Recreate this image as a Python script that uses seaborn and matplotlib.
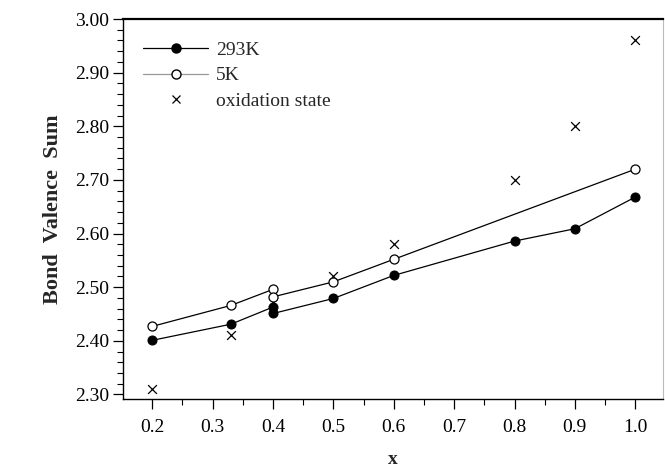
import matplotlib
matplotlib.use("Agg")
import matplotlib.pyplot as plt
from matplotlib.ticker import MultipleLocator, FormatStrFormatter
from matplotlib.lines import Line2D
import seaborn as sns
import pandas as pd

sns.set_theme(style="ticks")
plt.rcParams['font.family'] = ['Liberation Serif', 'DejaVu Serif']

x_293 = [0.2, 0.33, 0.4, 0.4, 0.5, 0.6, 0.8, 0.9, 1.0]
y_293 = [2.401, 2.431, 2.463, 2.451, 2.479, 2.522, 2.586, 2.609, 2.668]
x_5 = [0.2, 0.33, 0.4, 0.4, 0.5, 0.6, 1.0]
y_5 = [2.427, 2.466, 2.496, 2.482, 2.510, 2.552, 2.720]
x_ox = [0.2, 0.33, 0.4, 0.5, 0.6, 0.8, 0.9, 1.0]
y_ox = [2.31, 2.41, 2.473, 2.52, 2.58, 2.70, 2.80, 2.96]

df293 = pd.DataFrame({"x": x_293, "y": y_293})
df5 = pd.DataFrame({"x": x_5, "y": y_5})
dfox = pd.DataFrame({"x": x_ox, "y": y_ox})

fig = plt.figure(figsize=(6.65, 4.68), dpi=100)
ax = fig.add_axes([0.185, 0.1464, 0.812, 0.813])

sns.lineplot(data=df5, x="x", y="y", sort=False, estimator=None, ax=ax,
             color="black", linewidth=0.9, marker="o", markersize=6.5,
             markerfacecolor="white", markeredgecolor="black", markeredgewidth=0.9)
sns.lineplot(data=df293, x="x", y="y", sort=False, estimator=None, ax=ax,
             color="black", linewidth=0.9, marker="o", markersize=6.5,
             markerfacecolor="black", markeredgecolor="black")
sns.scatterplot(data=dfox, x="x", y="y", ax=ax, marker="x", s=40,
                color="black", linewidth=0.9)

ax.set_xlim(0.1515, 1.046)
ax.set_ylim(2.2907, 3.00)
ax.xaxis.set_minor_locator(MultipleLocator(0.05))
ax.yaxis.set_minor_locator(MultipleLocator(0.02))
ax.set_xticks([0.2, 0.3, 0.4, 0.5, 0.6, 0.7, 0.8, 0.9, 1.0])
ax.set_yticks([2.3, 2.4, 2.5, 2.6, 2.7, 2.8, 2.9, 3.0])
ax.xaxis.set_major_formatter(FormatStrFormatter('%.1f'))
ax.yaxis.set_major_formatter(FormatStrFormatter('%.2f'))
ax.tick_params(axis='both', which='major', direction='out', length=7, width=0.9,
               labelsize=14, color='black', labelcolor='black')
ax.tick_params(axis='both', which='minor', direction='out', length=4, width=0.8, color='black')
ax.tick_params(axis='x', pad=7)
ax.tick_params(axis='y', pad=3)

for s in ['left', 'bottom']:
    ax.spines[s].set_color('black')
    ax.spines[s].set_linewidth(1.0)
ax.spines['top'].set_color('black')
ax.spines['top'].set_linewidth(1.6)
ax.spines['right'].set_color('#bbbbbb')
ax.spines['right'].set_linewidth(0.8)

ax.set_xlabel("x", fontsize=14, fontweight='bold', labelpad=11)
ax.set_ylabel("Bond  Valence  Sum", fontsize=16, fontweight='bold', labelpad=9)

handles = [
    Line2D([], [], color='black', lw=0.9, marker='o', markersize=6.5,
           markerfacecolor='black', markeredgecolor='black'),
    Line2D([], [], color='#999999', lw=0.9, marker='o', markersize=6.5,
           markerfacecolor='white', markeredgecolor='black'),
    Line2D([], [], color='black', lw=0, marker='x', markersize=6, markeredgewidth=0.9),
]
ax.legend(handles, ["293K", "5K", "oxidation state"], loc='upper left',
          bbox_to_anchor=(0.037, 0.942), frameon=False, fontsize=14,
          borderpad=0, borderaxespad=0,
          handlelength=3.35, handletextpad=0.4, labelspacing=0.42)

fig.savefig("out.png", dpi=100, facecolor='white')
